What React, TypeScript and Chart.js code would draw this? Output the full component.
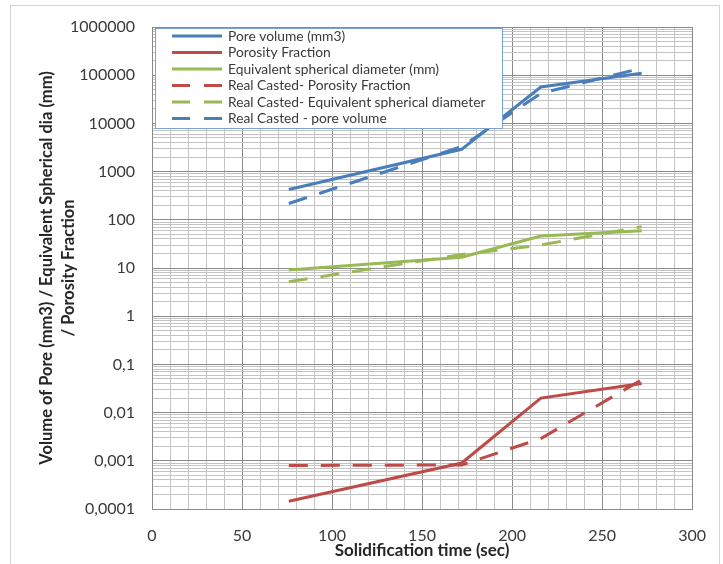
import React, { useEffect, useRef } from 'react';
import { Chart, registerables } from 'chart.js';

Chart.register(...registerables);

// ---- data ----
const solidTime = [76, 172, 216, 272];
const castTime = [76, 172, 216, 272];
const poreVolume = [425, 2900, 57000, 110000];
const porosityFraction = [0.000145, 0.0009, 0.02, 0.04];
const eqDiameter = [9.1, 16.7, 46, 59];
const castPorosity = [0.0008, 0.00082, 0.0029, 0.048];
const castEqDiameter = [5.2, 19, 30, 72];
const castPoreVolume = [218, 3300, 42000, 140000];

const xMajorStep = 50;
const xMinorStep = 10;
const yMajorTicks = [0.0001, 0.001, 0.01, 0.1, 1, 10, 100, 1000, 10000, 100000, 1000000];
const yTickLabels = ['0,0001', '0,001', '0,01', '0,1', '1', '10', '100', '1000', '10000', '100000', '1000000'];

const BLUE = '#4A7EBB';
const RED = '#BE4B48';
const GREEN = '#98B954';
const GRID_MAJOR = '#8a8a8a';
const GRID_MINOR = '#c4c4c4';
const DASH = [19, 13];

const pts = (xs: number[], ys: number[]) => xs.map((x, i) => ({ x, y: ys[i] }));

const framePlugin = {
  id: 'frame',
  beforeDraw(chart: any) {
    const ctx = chart.ctx;
    ctx.save();
    ctx.fillStyle = '#ffffff';
    ctx.fillRect(0, 0, chart.width, chart.height);
    ctx.strokeStyle = '#d4d4d4';
    ctx.lineWidth = 1;
    ctx.strokeRect(10.5, 5.5, 709, 600);
    ctx.restore();
  },
};

const legendPlugin = {
  id: 'boxLegend',
  afterDatasetsDraw(chart: any) {
    const ctx = chart.ctx;
    ctx.save();
    ctx.fillStyle = '#ffffff';
    ctx.fillRect(155, 28, 347, 100);
    ctx.strokeStyle = '#7da2d6';
    ctx.lineWidth = 1;
    ctx.strokeRect(155.5, 28.5, 347, 100);
    chart.data.datasets.forEach((ds: any, i: number) => {
      const y = 36 + i * 16.5;
      ctx.strokeStyle = ds.borderColor;
      ctx.lineWidth = 3;
      ctx.setLineDash(ds.borderDash ? [18, 14] : []);
      ctx.beginPath();
      ctx.moveTo(172, y);
      ctx.lineTo(222, y);
      ctx.stroke();
      ctx.setLineDash([]);
      ctx.fillStyle = '#3a3a3a';
      ctx.font = '13.8px Lato';
      ctx.textBaseline = 'middle';
      ctx.textAlign = 'left';
      ctx.fillText(ds.label, 228, y + 0.5);
    });
    ctx.restore();
  },
};

export default function App() {
  const ref = useRef<HTMLCanvasElement>(null);

  useEffect(() => {
    document.body.style.margin = '0';
    const canvas = ref.current;
    if (!canvas) return;
    const line = (label: string, xs: number[], ys: number[], color: string, dashed: boolean) => ({
      label,
      data: pts(xs, ys),
      borderColor: color,
      backgroundColor: color,
      borderWidth: 3,
      borderDash: dashed ? DASH : undefined,
      pointRadius: 0,
      tension: 0,
      fill: false,
    });
    const chart = new Chart(canvas, {
      type: 'line',
      data: {
        datasets: [
          line('Pore volume (mm3)', solidTime, poreVolume, BLUE, false),
          line('Porosity Fraction', solidTime, porosityFraction, RED, false),
          line('Equivalent spherical diameter (mm)', solidTime, eqDiameter, GREEN, false),
          line('Real Casted- Porosity Fraction', castTime, castPorosity, RED, true),
          line('Real Casted- Equivalent spherical diameter', castTime, castEqDiameter, GREEN, true),
          line('Real Casted - pore volume', castTime, castPoreVolume, BLUE, true),
        ] as any,
      },
      options: {
        animation: false,
        responsive: false,
        layout: { padding: { top: 27, right: 29, left: 0, bottom: 0 } },
        plugins: {
          legend: { display: false },
          tooltip: { enabled: false },
        },
        scales: {
          x: {
            type: 'linear',
            min: 0,
            max: 300,
            afterFit: (s: any) => { s.height = 55; },
            grid: {
              drawTicks: false,
              color: (c: any) => (c.tick && c.tick.value % xMajorStep === 0 ? GRID_MAJOR : GRID_MINOR),
            },
            border: { display: true, color: GRID_MAJOR },
            ticks: {
              stepSize: xMinorStep,
              autoSkip: false,
              maxRotation: 0,
              padding: 17,
              color: '#3a3a3a',
              font: { family: 'Lato', size: 16 },
              callback: (v: any) => (Number(v) % xMajorStep === 0 ? String(v) : ''),
            },
            title: {
              display: true,
              text: 'Solidification time (sec)',
              color: '#262626',
              font: { family: 'Lato', size: 17, weight: 'bold' },
              padding: { top: 0, bottom: 3 },
            },
          },
          y: {
            type: 'logarithmic',
            min: 0.0001,
            max: 1000000,
            afterFit: (s: any) => { s.width = 152; },
            afterBuildTicks: (s: any) => {
              const t: any[] = [];
              yMajorTicks.forEach((v, i) => {
                t.push({ value: v, major: true });
                if (i < yMajorTicks.length - 1) {
                  for (let m = 2; m <= 9; m++) t.push({ value: v * m });
                }
              });
              s.ticks = t;
            },
            grid: {
              drawTicks: false,
              color: (c: any) => (c.tick && yMajorTicks.indexOf(c.tick.value) >= 0 ? GRID_MAJOR : GRID_MINOR),
            },
            border: { display: true, color: GRID_MAJOR },
            ticks: {
              autoSkip: false,
              padding: 17,
              color: '#3a3a3a',
              font: { family: 'Lato', size: 16 },
              callback: (v: any) => {
                const i = yMajorTicks.indexOf(Number(v));
                return i >= 0 ? yTickLabels[i] : '';
              },
            },
            title: {
              display: true,
              text: ['Volume of Pore (mm3) / Equivalent Spherical dia (mm)', '/ Porosity Fraction'],
              color: '#262626',
              font: { family: 'Lato', size: 16.5, weight: 'bold', lineHeight: 1.3 },
              padding: { top: 36, bottom: 0 },
            },
          },
        },
      } as any,
      plugins: [framePlugin, legendPlugin],
    });
    return () => chart.destroy();
  }, []);

  return (
    <div style={{ width: 723, height: 564, overflow: 'hidden' }}>
      <canvas ref={ref} width={723} height={564} style={{ display: 'block' }} />
    </div>
  );
}
